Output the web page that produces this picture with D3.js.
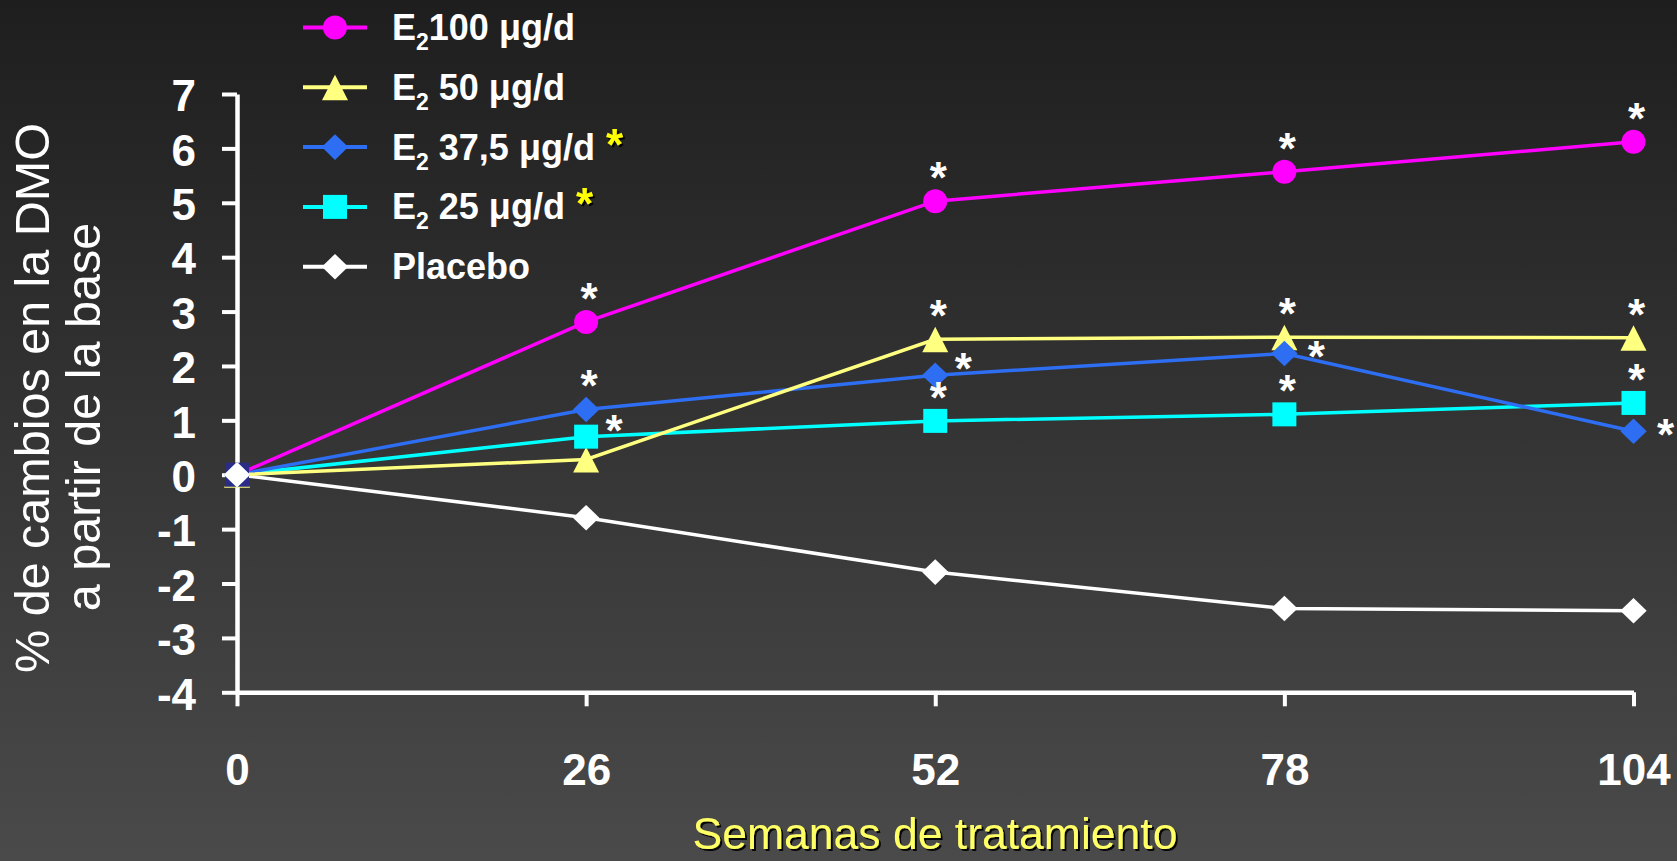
<!DOCTYPE html>
<html>
<head>
<meta charset="utf-8">
<script src="https://cdn.jsdelivr.net/npm/d3@7"></script>
<style>
  html, body { margin: 0; padding: 0; background: #333; }
  svg { display: block; }
  text { font-family: "Liberation Sans", Arial, sans-serif; }
</style>
</head>
<body>
<svg id="chart" width="1677" height="861"></svg>
<script>
// ---- data ----
const weeks = [0, 26, 52, 78, 104];
const yTicks = [-4, -3, -2, -1, 0, 1, 2, 3, 4, 5, 6, 7];
const seriesNames = ["E2 100 μg/d", "E2 50 μg/d", "E2 37,5 μg/d", "E2 25 μg/d", "Placebo"];
const e2_100 = [0, 2.81, 5.03, 5.57, 6.12];
const e2_50 = [0, 0.28, 2.49, 2.53, 2.52];
const e2_375 = [0, 1.20, 1.83, 2.23, 0.80];
const e2_25 = [0, 0.70, 0.99, 1.11, 1.32];
const placebo = [0, -0.79, -1.79, -2.46, -2.50];
// significance marks (where an asterisk is shown next to the point)
const sig100 = ["", "above", "above", "above", "above"];
const sig50 = ["", "", "above", "above", "above"];
const sig375 = ["", "above", "upright", "right", "right"];
const sig25 = ["", "upright", "above", "above", "above"];
const sigPlacebo = ["", "", "", "", ""];
const legendStar = [false, false, true, true, false];
const xTitle = "Semanas de tratamiento";
const yTitle = ["% de cambios en la DMO", "a partir de la base"];

// ---- styles ----
const series = [
  { name: seriesNames[0], values: e2_100, sig: sig100, color: "#ff00ff", shape: "circle" },
  { name: seriesNames[1], values: e2_50, sig: sig50, color: "#ffff80", shape: "triangle" },
  { name: seriesNames[2], values: e2_375, sig: sig375, color: "#2e6ef2", shape: "diamond" },
  { name: seriesNames[3], values: e2_25, sig: sig25, color: "#00ffff", shape: "square" },
  { name: seriesNames[4], values: placebo, sig: sigPlacebo, color: "#ffffff", shape: "diamond" }
];

const svg = d3.select("#chart");
const W = 1677, H = 861;
const defs = svg.append("defs");
const grad = defs.append("linearGradient").attr("id", "bg").attr("x1", 0).attr("y1", 0).attr("x2", 0).attr("y2", 1);
grad.append("stop").attr("offset", "0%").attr("stop-color", "#1e1e1e");
grad.append("stop").attr("offset", "100%").attr("stop-color", "#4a4a4a");
const sh = defs.append("filter").attr("id", "shadow").attr("x", "-10%").attr("y", "-10%").attr("width", "130%").attr("height", "140%");
sh.append("feDropShadow").attr("dx", 2).attr("dy", 2).attr("stdDeviation", 0.6).attr("flood-color", "#000").attr("flood-opacity", 0.9);

svg.append("rect").attr("width", W).attr("height", H).attr("fill", "url(#bg)");

const x = d3.scaleLinear().domain([0, 104]).range([237, 1633.5]);
const y = d3.scaleLinear().domain([-4, 7]).range([692.3, 94]);

function markerPath(shape, cx, cy) {
  const p = d3.path();
  if (shape === "circle") {
    p.moveTo(cx + 12, cy); p.arc(cx, cy, 12, 0, 2 * Math.PI);
  } else if (shape === "square") {
    p.rect(cx - 12, cy - 12, 24, 24);
  } else if (shape === "triangle") {
    p.moveTo(cx, cy - 12.5); p.lineTo(cx + 13, cy + 13); p.lineTo(cx - 13, cy + 13); p.closePath();
  } else if (shape === "diamond") {
    p.moveTo(cx, cy - 12.8); p.lineTo(cx + 13.2, cy); p.lineTo(cx, cy + 12.8); p.lineTo(cx - 13.2, cy); p.closePath();
  }
  return p.toString();
}

// ---- axes ----
const fmt = d => String(d);
const yAxis = d3.axisLeft(y).tickValues(yTicks).tickSize(15).tickSizeOuter(0).tickPadding(26).tickFormat(fmt);
const xAxis = d3.axisBottom(x).tickValues(weeks).tickSize(14).tickSizeOuter(0).tickPadding(47).tickFormat(fmt);

const gy = svg.append("g").attr("transform", `translate(${x(0)},0)`).call(yAxis);
const gx = svg.append("g").attr("transform", `translate(0,${y(-4)})`).call(xAxis);
[gx, gy].forEach(g => {
  g.select(".domain").attr("stroke", "#fff").attr("stroke-width", 4.5);
  g.selectAll(".tick line").attr("stroke", "#fff").attr("stroke-width", 4);
  g.selectAll(".tick text").attr("fill", "#fff").attr("font-size", 44).attr("font-weight", "bold")
    .attr("font-family", "'Liberation Sans', Arial, sans-serif");
});
gy.selectAll(".tick text").attr("dy", "0.38em");

// ---- lines ----
const line = d3.line().x((d, i) => x(weeks[i])).y(d => y(d));
const lineOrder = [4, 3, 2, 1, 0];
lineOrder.forEach(k => {
  svg.append("path").datum(series[k].values).attr("d", line)
    .attr("fill", "none").attr("stroke", series[k].color).attr("stroke-width", 3.5);
});

// ---- markers ----
const markerOrder = [0, 1, 3, 2, 4];
markerOrder.forEach(k => {
  const s = series[k];
  svg.append("g").selectAll("path").data(s.values).join("path")
    .attr("d", (d, i) => markerPath(s.shape, x(weeks[i]), y(d)))
    .attr("fill", (d, i) => (s.shape === "square" && weeks[i] === 0) ? "#2c2c86" : s.color);
});

// ---- significance asterisks ----
const offs = { above: [3, -33], right: [32, -6], upright: [28, -16] };
series.forEach(s => {
  s.sig.forEach((m, i) => {
    if (!m) return;
    const o = offs[m];
    svg.append("text")
      .attr("x", x(weeks[i]) + o[0])
      .attr("y", y(s.values[i]) + o[1] + 25)
      .attr("text-anchor", "middle")
      .attr("font-size", 44).attr("font-weight", "bold").attr("fill", "#fff")
      .text("*");
  });
});

// ---- legend ----
const lg = svg.append("g");
series.forEach((s, k) => {
  const ly = 27.5 + k * 59.8;
  lg.append("line").attr("x1", 303).attr("x2", 367).attr("y1", ly).attr("y2", ly)
    .attr("stroke", s.color).attr("stroke-width", 4);
  lg.append("path").attr("d", markerPath(s.shape, 335, ly)).attr("fill", s.color);
  const t = lg.append("text").attr("x", 392).attr("y", ly + 12.5)
    .attr("font-size", 36).attr("font-weight", "bold").attr("fill", "#fff");
  if (s.name.startsWith("E2")) {
    const rest = s.name.slice(2);
    t.append("tspan").text("E");
    t.append("tspan").attr("font-size", 23).attr("dy", 10).text("2");
    t.append("tspan").attr("dy", -10).text(rest.startsWith(" 100") ? rest.slice(1) : rest);
    if (legendStar[k]) {
      t.append("tspan").attr("fill", "#ffff00").attr("filter", "url(#shadow)").attr("font-size", 44).attr("dx", -1).attr("dy", 0).text(" *");
    }
  } else {
    t.text(s.name);
  }
});

// ---- titles ----
svg.append("text").attr("x", 935).attr("y", 849)
  .attr("text-anchor", "middle").attr("font-size", 44.5).attr("fill", "#ffff66")
  .attr("filter", "url(#shadow)").text(xTitle);

svg.append("text").attr("transform", "translate(49,398) rotate(-90)")
  .attr("text-anchor", "middle").attr("font-size", 48.5).attr("fill", "#fff").text(yTitle[0]);
svg.append("text").attr("transform", "translate(100,417) rotate(-90)")
  .attr("text-anchor", "middle").attr("font-size", 48.5).attr("fill", "#fff").text(yTitle[1]);
</script>
</body>
</html>
